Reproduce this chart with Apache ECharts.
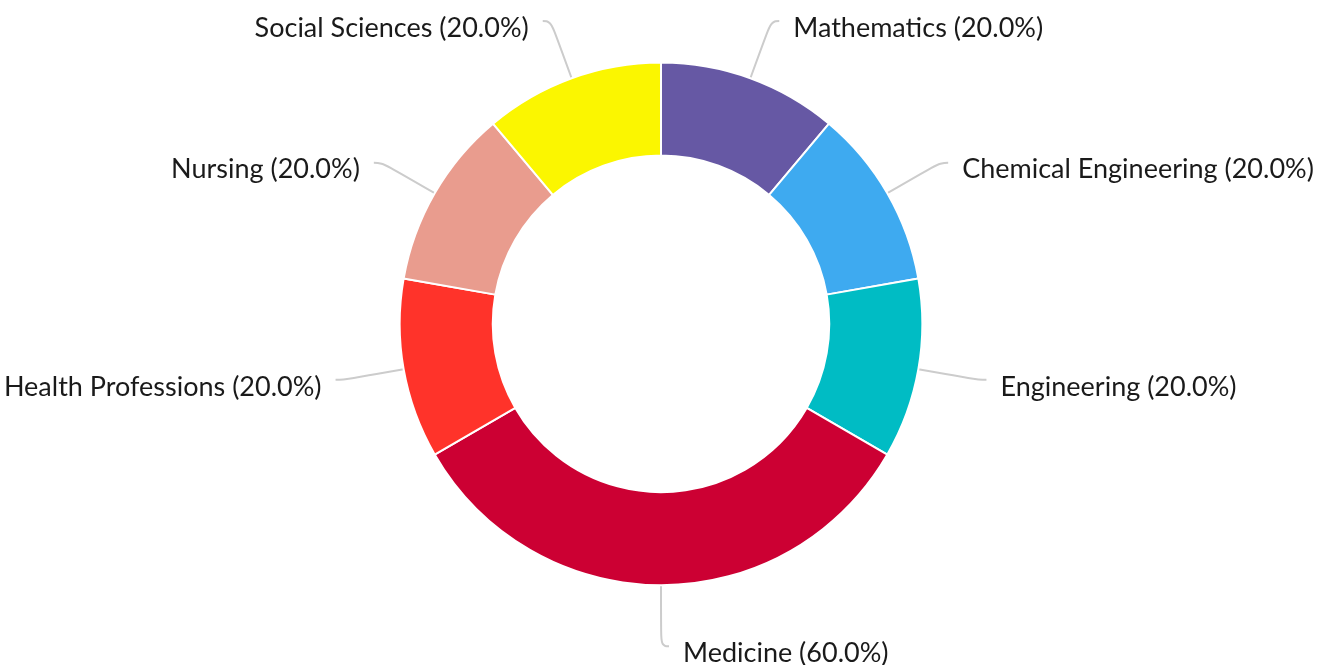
<!DOCTYPE html>
<html><head><meta charset="utf-8">
<script src="https://cdn.jsdelivr.net/npm/echarts@6/dist/echarts.min.js"></script>
<style>html,body{margin:0;padding:0;background:#fff}#c{width:1322px;height:665px}</style>
</head><body><div id="c"></div>
<script>
var categories = ["Mathematics","Chemical Engineering","Engineering","Medicine","Health Professions","Nursing","Social Sciences"];
var values = [0.2,0.2,0.2,0.6,0.2,0.2,0.2];
var colors = ["#6658a4","#3eaaf0","#00bcc4","#cc0033","#ff332a","#e99c8e","#fbf600"];
var chart = echarts.init(document.getElementById('c'));
chart.setOption({
  animation:false,
  series:[{
    type:'pie',
    center:['50%','48.7%'],
    radius:['50.6%','78.6%'],
    startAngle:90,
    clockwise:true,
    avoidLabelOverlap:false,
    itemStyle:{borderColor:'#fff',borderWidth:2},
    label:{
      formatter:function(p){return p.name+' ('+(p.value*100).toFixed(1)+'%)';},
      fontFamily:'Lato',fontSize:27,color:'#1a1a1a',
      distanceToLabelLine:14,overflow:'none',offset:[0,7]
    },
    labelLine:{length:61,length2:8,smooth:0.5,lineStyle:{color:'#cccccc',width:2}},
    data:categories.map(function(n,i){return {name:n,value:values[i],itemStyle:{color:colors[i]}};})
  }]
});
</script></body></html>
